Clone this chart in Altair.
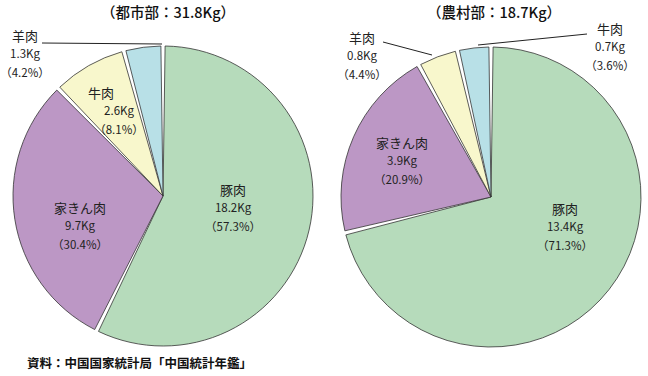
import altair as alt
import pandas as pd

# ---- data ----
urban_cats = ["豚肉", "家きん肉", "牛肉", "羊肉"]
urban_kg = [18.2, 9.7, 2.6, 1.3]
urban_pct = [57.3, 30.4, 8.1, 4.2]
urban_title = "（都市部：31.8Kg）"

rural_cats = ["豚肉", "家きん肉", "羊肉", "牛肉"]
rural_kg = [13.4, 3.9, 0.8, 0.7]
rural_pct = [71.3, 20.9, 4.4, 3.6]
rural_title = "（農村部：18.7Kg）"

source_text = "資料：中国国家統計局「中国統計年鑑」"

slice_colors = ["#b6dbbb", "#bc97c5", "#f8f7cc", "#b8e0e7"]

# ---- layout (positions kept apart from data) ----
urban_center = (163, 196)
rural_center = (491, 197)
radius = 150
# (name x, values x, middle-line y)
urban_label_pos = [(233, 233, 209), (80, 80, 227), (101, 119, 112), (25, 25, 55)]
rural_label_pos = [(565, 565, 228), (402, 402, 162), (362, 362, 57), (610, 610, 48)]
leaders = [  # x, y, x2, y2
    (42, 43, 162, 44),
    (383, 42, 432, 55),
    (587, 34, 478, 45),
]
FONT = "Noto Sans CJK JP"
LH = 18.5


def make_df(cats, kg, pct):
    return pd.DataFrame({
        "cat": cats,
        "kg": kg,
        "pct": pct,
        "slot": list(range(len(cats))),
        "vals": [f"{k}Kg\n（{p}%）" for k, p in zip(kg, pct)],
    })


udf = make_df(urban_cats, urban_kg, urban_pct)
rdf = make_df(rural_cats, rural_kg, rural_pct)

color = alt.Color("slot:O", scale=alt.Scale(domain=[0, 1, 2, 3], range=slice_colors), legend=None)


def pie(df, center):
    return alt.Chart(df).mark_arc(
        radius=radius, padAngle=0.028, stroke="#333333", strokeWidth=0.8
    ).encode(
        theta=alt.Theta("pct:Q", stack=True),
        order=alt.Order("slot:Q"),
        color=color,
        x=alt.value(center[0]),
        y=alt.value(center[1]),
    )


def labels(df, pos):
    d = df.copy()
    d["nx"] = [p[0] for p in pos]
    d["vx"] = [p[1] for p in pos]
    d["ly"] = [p[2] for p in pos]
    base = alt.Chart(d)
    names = base.mark_text(
        font=FONT, fontSize=13, align="center", baseline="middle",
        color="#222222", dy=-LH
    ).encode(
        x=alt.X("nx:Q", scale=None), y=alt.Y("ly:Q", scale=None), text="cat:N"
    )
    vals = base.mark_text(
        font=FONT, fontSize=11.5, lineBreak="\n", lineHeight=LH,
        align="center", baseline="middle", color="#222222"
    ).encode(
        x=alt.X("vx:Q", scale=None), y=alt.Y("ly:Q", scale=None), text="vals:N"
    )
    return names + vals


ldf = pd.DataFrame(leaders, columns=["x", "y", "x2", "y2"])
lead = alt.Chart(ldf).mark_rule(color="#222222", strokeWidth=1).encode(
    x=alt.X("x:Q", scale=None), y=alt.Y("y:Q", scale=None),
    x2="x2:Q", y2="y2:Q",
)

tdf = pd.DataFrame({"t": [urban_title, rural_title], "tx": [168, 494], "ty": [14, 14]})
titles = alt.Chart(tdf).mark_text(
    font=FONT, fontSize=14.5, fontWeight=500, align="center", baseline="middle", color="#111111"
).encode(x=alt.X("tx:Q", scale=None), y=alt.Y("ty:Q", scale=None), text="t:N")

sdf = pd.DataFrame({"t": [source_text], "tx": [27], "ty": [364]})
source = alt.Chart(sdf).mark_text(
    font=FONT, fontSize=12.5, fontWeight="bold", align="left", baseline="middle", color="#111111"
).encode(x=alt.X("tx:Q", scale=None), y=alt.Y("ty:Q", scale=None), text="t:N")

chart = alt.layer(
    pie(udf, urban_center), pie(rdf, rural_center),
    lead, labels(udf, urban_label_pos), labels(rdf, rural_label_pos),
    titles, source,
).resolve_scale(theta="independent").properties(
    width=648, height=376, autosize=alt.AutoSizeParams(type="none"), padding=0,
).configure_view(stroke=None)

chart.save("out.html", embed_options={"renderer": "svg", "actions": False})
